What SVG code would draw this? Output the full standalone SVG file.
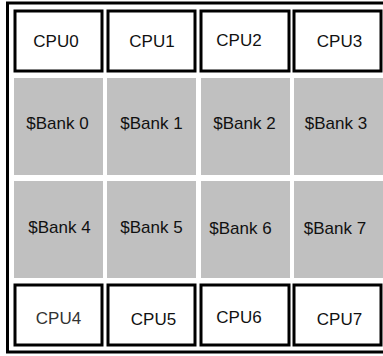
<svg xmlns="http://www.w3.org/2000/svg" width="383" height="356" viewBox="0 0 383 356">
  <style>
    .frame { fill: none; stroke: #000; stroke-width: 3; }
    .cpu rect { fill: #fff; stroke: #000; stroke-width: 3; }
    .bank rect { fill: #c0c0c0; stroke: none; }
    text { font-family: "Liberation Sans", Arial, sans-serif; font-size: 17px; fill: #111; text-anchor: middle; }
  </style>
  <rect width="383" height="356" fill="#fff"/>
  <!-- outer chip frame (right side runs past the canvas edge) -->
  <rect class="frame" x="7.5" y="3" width="385" height="349"/>

  <!-- top row of cores -->
  <g id="cpu0" class="cpu"><rect x="15" y="11" width="87" height="60"/><text x="56" y="47">CPU0</text></g>
  <g id="cpu1" class="cpu"><rect x="108" y="11" width="87" height="60"/><text x="152" y="47">CPU1</text></g>
  <g id="cpu2" class="cpu"><rect x="201" y="11" width="88" height="60"/><text x="239" y="46">CPU2</text></g>
  <g id="cpu3" class="cpu"><rect x="294" y="11" width="87" height="60"/><text x="339.5" y="47">CPU3</text></g>

  <!-- cache banks -->
  <g id="bank0" class="bank"><rect x="14" y="78" width="89" height="97"/><text x="57.5" y="128.5">$Bank 0</text></g>
  <g id="bank1" class="bank"><rect x="107" y="78" width="89" height="97"/><text x="151.5" y="128.5">$Bank 1</text></g>
  <g id="bank2" class="bank"><rect x="201" y="78" width="89" height="97"/><text x="244.5" y="129">$Bank 2</text></g>
  <g id="bank3" class="bank"><rect x="294" y="78" width="89" height="97"/><text x="336" y="129">$Bank 3</text></g>
  <g id="bank4" class="bank"><rect x="14" y="181" width="89" height="97"/><text x="59.5" y="232.5">$Bank 4</text></g>
  <g id="bank5" class="bank"><rect x="107" y="181" width="89" height="97"/><text x="151.5" y="232.5">$Bank 5</text></g>
  <g id="bank6" class="bank"><rect x="201" y="181" width="89" height="97"/><text x="240.5" y="233.5">$Bank 6</text></g>
  <g id="bank7" class="bank"><rect x="294" y="181" width="89" height="97"/><text x="335" y="233.5">$Bank 7</text></g>

  <!-- bottom row of cores -->
  <g id="cpu4" class="cpu"><rect x="15" y="285" width="87" height="60"/><text x="58.5" y="323.5" style="fill:#333">CPU4</text></g>
  <g id="cpu5" class="cpu"><rect x="108" y="285" width="87" height="60"/><text x="153.5" y="325">CPU5</text></g>
  <g id="cpu6" class="cpu"><rect x="201" y="285" width="88" height="60"/><text x="239" y="323">CPU6</text></g>
  <g id="cpu7" class="cpu"><rect x="294" y="285" width="87" height="60"/><text x="339.5" y="324.5">CPU7</text></g>

  <g id="connectors"/>
</svg>
